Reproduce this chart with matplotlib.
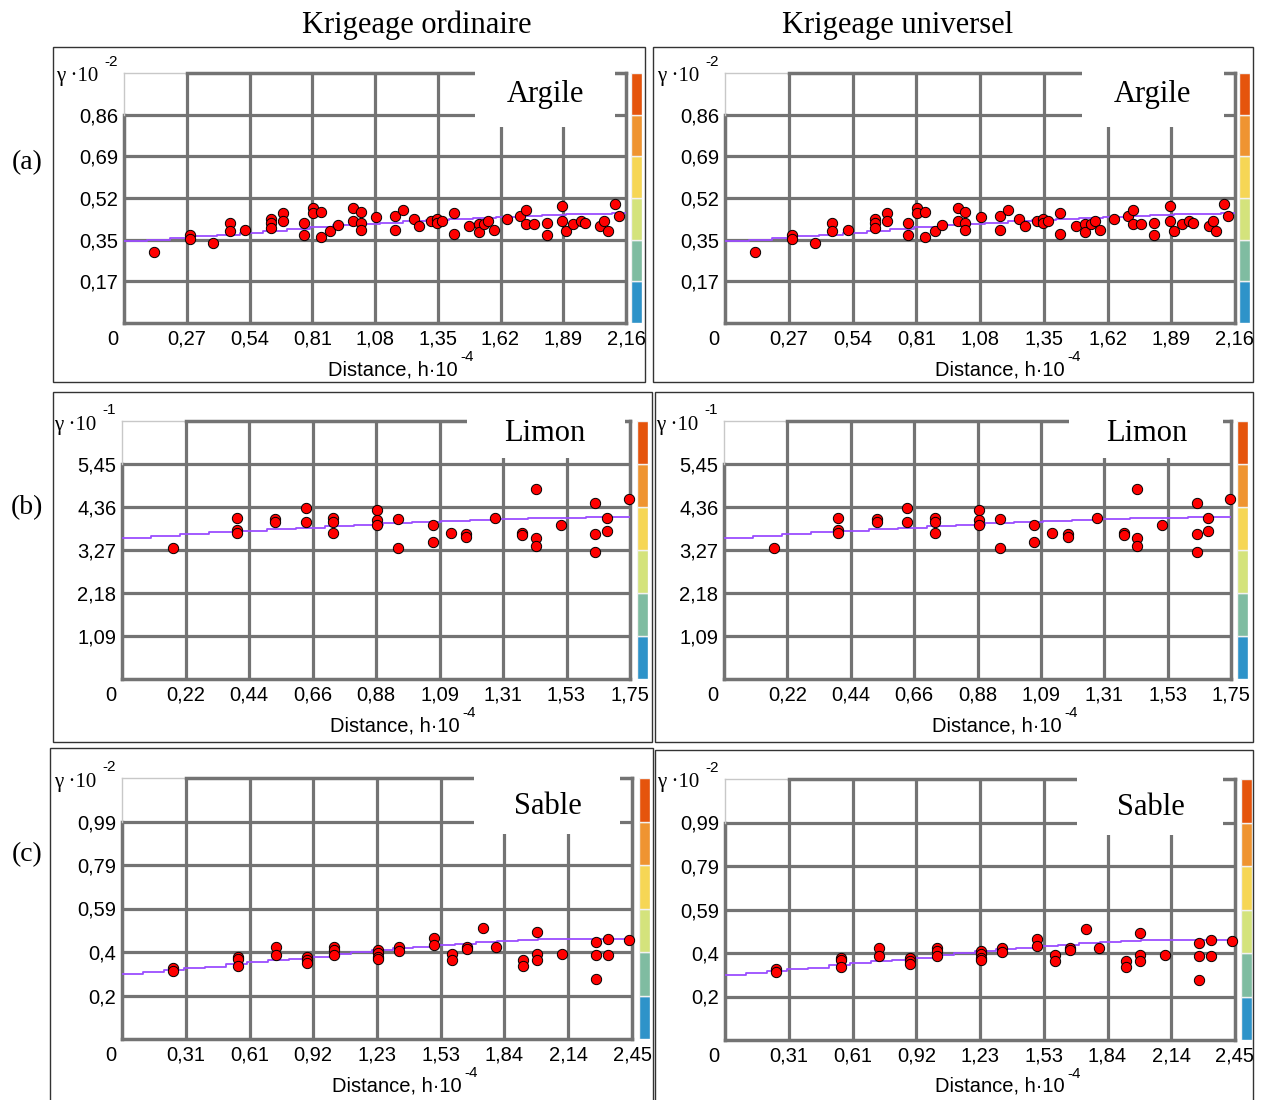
import numpy as np
import matplotlib
matplotlib.use("Agg")
import matplotlib.pyplot as plt
from matplotlib.patches import Rectangle
from matplotlib.transforms import ScaledTranslation

# ---- data ----
col_titles = ["Krigeage ordinaire", "Krigeage universel"]
row_tags = ["(a)", "(b)", "(c)"]
soil_names = ["Argile", "Limon", "Sable"]
y_exponents = ["-2", "-1", "-2"]

argile_h = [0.128, 0.283, 0.283, 0.382, 0.455, 0.455, 0.521, 0.634, 0.634, 0.634,
            0.684, 0.684, 0.774, 0.774, 0.814, 0.814, 0.847, 0.847, 0.888, 0.919,
            0.985, 0.985, 1.018, 1.018, 1.018, 1.084, 1.165, 1.165, 1.199, 1.247,
            1.270, 1.320, 1.345, 1.345, 1.370, 1.419, 1.419, 1.485, 1.526, 1.526,
            1.551, 1.567, 1.590, 1.648, 1.705, 1.730, 1.730, 1.763, 1.819, 1.819,
            1.885, 1.885, 1.901, 1.934, 1.966, 1.982, 2.048, 2.065, 2.081, 2.113, 2.129]
argile_g = [0.296, 0.366, 0.349, 0.332, 0.416, 0.380, 0.387, 0.430, 0.412, 0.394,
            0.454, 0.423, 0.416, 0.363, 0.476, 0.454, 0.461, 0.356, 0.380, 0.405,
            0.477, 0.423, 0.461, 0.416, 0.387, 0.438, 0.445, 0.387, 0.468, 0.430,
            0.401, 0.423, 0.430, 0.416, 0.423, 0.454, 0.370, 0.401, 0.408, 0.377,
            0.408, 0.423, 0.387, 0.430, 0.445, 0.468, 0.408, 0.408, 0.416, 0.363,
            0.483, 0.423, 0.380, 0.408, 0.423, 0.416, 0.401, 0.423, 0.380, 0.491, 0.445]
argile_model_h = [0, 0.1, 0.2, 0.3, 0.4, 0.5, 0.6, 0.7, 0.8, 0.9, 1.0, 1.1, 1.2,
                  1.3, 1.4, 1.5, 1.6, 1.7, 1.8, 1.9, 2.0, 2.1, 2.16]
argile_model_g = [0.338, 0.345, 0.352, 0.360, 0.366, 0.374, 0.382, 0.390, 0.397,
                  0.404, 0.410, 0.416, 0.421, 0.426, 0.431, 0.436, 0.440, 0.444,
                  0.447, 0.451, 0.452, 0.454, 0.455]
argile_xticks = [0, 0.27, 0.54, 0.81, 1.08, 1.35, 1.62, 1.89, 2.16]
argile_xlabels = ["0", "0,27", "0,54", "0,81", "1,08", "1,35", "1,62", "1,89", "2,16"]
argile_yticks = [0.1725, 0.345, 0.5175, 0.69, 0.8625]
argile_ylabels = ["0,17", "0,35", "0,52", "0,69", "0,86"]
argile_ytop = 1.035

limon_h = [0.174, 0.395, 0.395, 0.395, 0.527, 0.527, 0.633, 0.633, 0.727, 0.727,
           0.727, 0.880, 0.880, 0.880, 0.952, 0.952, 1.071, 1.071, 1.133, 1.186,
           1.186, 1.286, 1.379, 1.379, 1.425, 1.425, 1.425, 1.511, 1.631, 1.631,
           1.631, 1.671, 1.671, 1.746]
limon_g = [3.33, 4.09, 3.78, 3.70, 4.05, 3.98, 4.33, 3.99, 4.09, 3.99,
           3.71, 4.29, 4.02, 3.91, 4.05, 3.33, 3.91, 3.48, 3.71, 3.67,
           3.61, 4.09, 3.71, 3.65, 4.81, 3.57, 3.37, 3.91, 4.47, 3.67,
           3.23, 4.09, 3.76, 4.57]
limon_model_h = [0, 0.1, 0.2, 0.3, 0.4, 0.5, 0.6, 0.7, 0.8, 0.9, 1.0, 1.1, 1.2,
                 1.3, 1.4, 1.5, 1.6, 1.75]
limon_model_g = [3.57, 3.63, 3.67, 3.72, 3.76, 3.80, 3.84, 3.87, 3.91, 3.95,
                 3.98, 4.01, 4.04, 4.06, 4.08, 4.09, 4.10, 4.10]
limon_xticks = [0, 0.21875, 0.4375, 0.65625, 0.875, 1.09375, 1.3125, 1.53125, 1.75]
limon_xlabels = ["0", "0,22", "0,44", "0,66", "0,88", "1,09", "1,31", "1,53", "1,75"]
limon_yticks = [1.09, 2.18, 3.27, 4.36, 5.45]
limon_ylabels = ["1,09", "2,18", "3,27", "4,36", "5,45"]
limon_ytop = 6.54

sable_h = [0.247, 0.247, 0.555, 0.555, 0.555, 0.741, 0.741, 0.888, 0.888, 0.888,
           1.018, 1.018, 1.018, 1.232, 1.232, 1.232, 1.232, 1.332, 1.332, 1.500,
           1.500, 1.584, 1.584, 1.656, 1.656, 1.732, 1.799, 1.927, 1.927, 1.992,
           1.992, 1.992, 2.112, 2.279, 2.279, 2.279, 2.333, 2.333, 2.435]
sable_g = [0.325, 0.311, 0.375, 0.364, 0.333, 0.419, 0.384, 0.372, 0.360, 0.348,
           0.419, 0.405, 0.383, 0.404, 0.392, 0.375, 0.366, 0.419, 0.399, 0.462,
           0.427, 0.386, 0.358, 0.419, 0.408, 0.506, 0.419, 0.358, 0.333, 0.487,
           0.386, 0.358, 0.386, 0.443, 0.384, 0.272, 0.454, 0.384, 0.452]
sable_model_h = [0, 0.1, 0.2, 0.3, 0.4, 0.5, 0.6, 0.7, 0.8, 0.9, 1.0, 1.1, 1.2,
                 1.3, 1.4, 1.5, 1.6, 1.7, 1.8, 1.9, 2.0, 2.45]
sable_model_g = [0.298, 0.305, 0.315, 0.322, 0.330, 0.340, 0.350, 0.358, 0.366,
                 0.375, 0.385, 0.395, 0.405, 0.412, 0.420, 0.427, 0.434, 0.440,
                 0.445, 0.450, 0.454, 0.455]
sable_xticks = [0, 0.30625, 0.6125, 0.91875, 1.225, 1.53125, 1.8375, 2.14375, 2.45]
sable_xlabels = ["0", "0,31", "0,61", "0,92", "1,23", "1,53", "1,84", "2,14", "2,45"]
sable_yticks = [0.198, 0.396, 0.594, 0.792, 0.99]
sable_ylabels = ["0,2", "0,4", "0,59", "0,79", "0,99"]
sable_ytop = 1.188

cbar_colors = ["#2e93c9", "#7fbca1", "#d4e37c", "#f6d655", "#ef9431", "#e5540c"]

# ---- layout (pixels in a 1266x1100 canvas) ----
W, H = 1266, 1100
SERIF = ["Liberation Serif", "DejaVu Serif"]
SANS = ["Liberation Sans", "DejaVu Sans"]
GRID = "#737373"

panels = [
    # border, axes (l, t, r, b), colorbar (l, r), box (x0, x1, y0), label pos
    [(53, 47, 645, 382), (124, 73, 626, 323), (631, 642), (0.70, 0.979, 0.785), (0.839, 0.913)],
    [(653, 47, 1253, 382), (725, 73, 1235, 323), (1239, 1250), (0.70, 0.979, 0.785), (0.839, 0.913)],
    [(53, 392, 652, 742), (122, 421, 630, 679), (637, 648), (0.68, 0.990, 0.855), (0.833, 0.952)],
    [(655, 392, 1253, 742), (724, 421, 1231, 679), (1237, 1248), (0.68, 0.985, 0.855), (0.833, 0.952)],
    [(50, 748, 653, 1102), (122, 778, 632, 1039), (639, 650), (0.691, 0.977, 0.785), (0.835, 0.889)],
    [(655, 750, 1253, 1102), (725, 779, 1235, 1040), (1241, 1252), (0.691, 0.977, 0.785), (0.835, 0.889)],
]

rows = [
    (argile_h, argile_g, argile_model_h, argile_model_g, argile_xticks, argile_xlabels,
     argile_yticks, argile_ylabels, argile_ytop),
    (limon_h, limon_g, limon_model_h, limon_model_g, limon_xticks, limon_xlabels,
     limon_yticks, limon_ylabels, limon_ytop),
    (sable_h, sable_g, sable_model_h, sable_model_g, sable_xticks, sable_xlabels,
     sable_yticks, sable_ylabels, sable_ytop),
]


def rect(l, t, r, b):
    return [l / W, 1 - b / H, (r - l) / W, (b - t) / H]


fig = plt.figure(figsize=(W / 100, H / 100), dpi=100)
fig.patch.set_facecolor("white")

for i, (border, axp, cbp, box, lab) in enumerate(panels):
    r = i // 2
    hs, gs, mh, mg, xt, xl, yt, yl, ytop = rows[r]
    xmax = xt[-1]

    # panel frame
    bl, bt, br, bb = border
    fig.patches.append(Rectangle((bl / W, 1 - bb / H), (br - bl) / W, (bb - bt) / H,
                                 transform=fig.transFigure, fill=False,
                                 edgecolor="#333333", lw=1.0))

    ax = fig.add_axes(rect(*axp))
    ax.set_xlim(0, xmax)
    ax.set_ylim(0, ytop)
    for s in ax.spines.values():
        s.set_visible(False)

    # grid
    for xv in xt[1:-1]:
        ax.plot([xv, xv], [0, ytop], color=GRID, lw=2.3, zorder=1, solid_capstyle="butt")
    for yv in yt:
        ax.plot([0, xmax], [yv, yv], color=GRID, lw=2.3, zorder=1, solid_capstyle="butt")
    # frame of plot area
    ax.plot([0, xmax], [0, 0], color=GRID, lw=2.5, zorder=1, clip_on=False)
    ax.plot([0, 0], [0, yt[-1]], color=GRID, lw=2.5, zorder=1, clip_on=False)
    ax.plot([0, 0], [yt[-1], ytop], color="#c8c8c8", lw=1.0, zorder=1, clip_on=False)
    ax.plot([xmax, xmax], [0, ytop], color=GRID, lw=2.5, zorder=1, clip_on=False)
    ax.plot([0, xt[1]], [ytop, ytop], color="#c8c8c8", lw=1.0, zorder=1, clip_on=False)
    ax.plot([xt[1], xmax], [ytop, ytop], color=GRID, lw=2.5, zorder=1, clip_on=False)

    # white label box
    bx0, bx1, by0 = box
    ax.add_patch(Rectangle((bx0, by0), bx1 - bx0, 1.12 - by0, transform=ax.transAxes,
                           facecolor="white", edgecolor="none", zorder=3, clip_on=False))
    ax.text(lab[0], lab[1], soil_names[r], transform=ax.transAxes, ha="center",
            va="center", fontsize=22, family=SERIF, zorder=5)

    # model and experimental variogram
    ax.plot(mh, mg, color="#9b4dff", lw=1.3, drawstyle="steps-post", zorder=2)
    ax.scatter(hs, gs, s=55, c="#ff0000", edgecolors="black", linewidths=0.7,
               zorder=4, clip_on=False)

    # ticks
    ax.set_xticks(xt)
    ax.set_xticklabels(xl, family=SANS, fontsize=14.5)
    ax.set_yticks(yt)
    ax.set_yticklabels(yl, family=SANS, fontsize=14.5)
    ax.tick_params(length=0)
    ax.tick_params(axis="x", pad=5)
    ax.tick_params(axis="y", pad=4)
    first = ax.get_xticklabels()[0]
    first.set_transform(first.get_transform() + ScaledTranslation(-0.11, 0, fig.dpi_scale_trans))

    # axis titles
    ax.annotate("γ ·10", xy=(0, 1), xycoords="axes fraction", xytext=(-68, -4),
                textcoords="offset pixels", ha="left", va="center", fontsize=15,
                family=SERIF)
    ax.annotate(y_exponents[r], xy=(0, 1), xycoords="axes fraction", xytext=(-20, 11),
                textcoords="offset pixels", ha="left", va="center", fontsize=11,
                family=SANS)
    ax.annotate("Distance, h·10", xy=(0.665, 0), xycoords="axes fraction",
                xytext=(0, -52), textcoords="offset pixels", ha="right",
                va="baseline", fontsize=14.5, family=SANS)
    ax.annotate("-4", xy=(0.665, 0), xycoords="axes fraction", xytext=(3, -34),
                textcoords="offset pixels", ha="left", va="center", fontsize=11,
                family=SANS)

    # colour strip
    cl, cr = cbp
    cax = fig.add_axes(rect(cl, axp[1], cr, axp[3]))
    for k, c in enumerate(cbar_colors):
        cax.bar(0, 1, bottom=k, width=1, color=c, edgecolor="#f2f2f2", lw=1.0)
    cax.set_xlim(-0.5, 0.5)
    cax.set_ylim(0, len(cbar_colors))
    cax.axis("off")

# column titles and row tags
fig.text(417 / W, 1 - 25 / H, col_titles[0], ha="center", va="center", fontsize=22, family=SERIF)
fig.text(898 / W, 1 - 25 / H, col_titles[1], ha="center", va="center", fontsize=22, family=SERIF)
for tag, py in zip(row_tags, [163, 508, 855]):
    fig.text(27 / W, 1 - py / H, tag, ha="center", va="center", fontsize=20, family=SERIF)

fig.savefig("out.png", dpi=100)
